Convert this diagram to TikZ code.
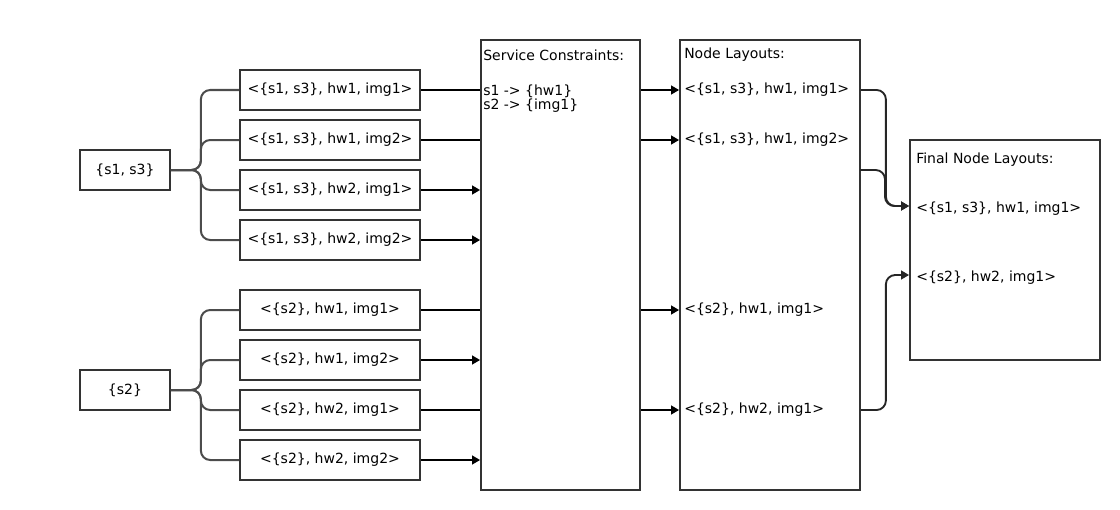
\documentclass[tikz,border=0pt]{standalone}
\usepackage{fontspec}
\setmainfont{DejaVu Sans}
\usetikzlibrary{arrows.meta,calc}
\begin{document}
\begin{tikzpicture}[x=0.75pt,y=-0.75pt,
  font=\fontsize{10.5}{12.5}\selectfont,
  box/.style={draw=black!80, line width=1.3pt, inner sep=0pt},
  rowbox/.style={box, minimum width=135pt, minimum height=30pt},
  lbox/.style={box, minimum width=67.5pt, minimum height=30pt},
  txt/.style={anchor=west, inner sep=0pt},
  tree/.style={draw=black!70, line width=1.5pt, rounded corners=7pt},
  plain/.style={draw=black, line width=1.4pt},
  arr/.style={plain, -{Triangle[length=6pt,width=6.5pt]}},
  farr/.style={draw=black!85, line width=1.4pt, rounded corners=7pt, -{Triangle[length=6pt,width=6.5pt]}}]
\useasboundingbox (0,0) rectangle (1120,510);
% left boxes
\node[lbox] (a) at (125,170) {\{s1, s3\}};
\node[lbox] (b) at (125,390) {\{s2\}};
% rows
\node[rowbox] (r1) at (330,90) {<\{s1, s3\}, hw1, img1>};
\node[rowbox] (r2) at (330,140) {<\{s1, s3\}, hw1, img2>};
\node[rowbox] (r3) at (330,190) {<\{s1, s3\}, hw2, img1>};
\node[rowbox] (r4) at (330,240) {<\{s1, s3\}, hw2, img2>};
\node[rowbox] (r5) at (330,310) {<\{s2\}, hw1, img1>};
\node[rowbox] (r6) at (330,360) {<\{s2\}, hw1, img2>};
\node[rowbox] (r7) at (330,410) {<\{s2\}, hw2, img1>};
\node[rowbox] (r8) at (330,460) {<\{s2\}, hw2, img2>};
% big boxes
\node[box, minimum width=119.25pt, minimum height=337.5pt] (sc) at (560.5,265) {};
\node[box, minimum width=135pt, minimum height=337.5pt] (nl) at (770,265) {};
\node[box, minimum width=142.5pt, minimum height=165pt] (fin) at (1005,250) {};
% texts
\node[txt] (sct) at (483,55) {Service Constraints:};
\node[txt] (c1) at (483,91) {s1 -> \{hw1\}};
\node[txt] (c2) at (483,106) {s2 -> \{img1\}};
\node[txt] (nlt) at (684,55) {Node Layouts:};
\node[txt] (n1) at (684,90) {<\{s1, s3\}, hw1, img1>};
\node[txt] (n2) at (684,140) {<\{s1, s3\}, hw1, img2>};
\node[txt] (n3) at (684,310) {<\{s2\}, hw1, img1>};
\node[txt] (n4) at (684,410) {<\{s2\}, hw2, img1>};
\node[txt] (ft) at (916,160) {Final Node Layouts:};
\node[txt] (f1) at (916,209) {<\{s1, s3\}, hw1, img1>};
\node[txt] (f2) at (916,278) {<\{s2\}, hw2, img1>};
\coordinate (nlmid) at (860,170);
% tree connectors
\foreach \r in {r1,r2,r3,r4} \draw[tree] (a.east) -- ++(30,0) |- (\r.west);
\foreach \r in {r5,r6,r7,r8} \draw[tree] (b.east) -- ++(30,0) |- (\r.west);
% rows to service constraints
\foreach \r in {r1,r2,r5,r7} \draw[plain] (\r.east) -- (\r.east -| sc.west);
\foreach \r in {r3,r4,r6,r8} \draw[arr] (\r.east) -- (\r.east -| sc.west);
% service constraints to node layouts
\foreach \n in {n1,n2,n3,n4} \draw[arr] (sc.east |- \n.west) -- (nl.west |- \n.west);
% node layouts to final
\draw[farr] (nl.east |- n1.west) -- ++(25,0) |- ($(fin.west |- f1.west)+(0,-3)$);
\draw[farr] (nlmid) -- ++(25,0) |- ($(fin.west |- f1.west)+(0,-3)$);
\draw[farr] (nl.east |- n4.west) -- ++(25,0) |- ($(fin.west |- f2.west)+(0,-3)$);
\end{tikzpicture}
\end{document}
